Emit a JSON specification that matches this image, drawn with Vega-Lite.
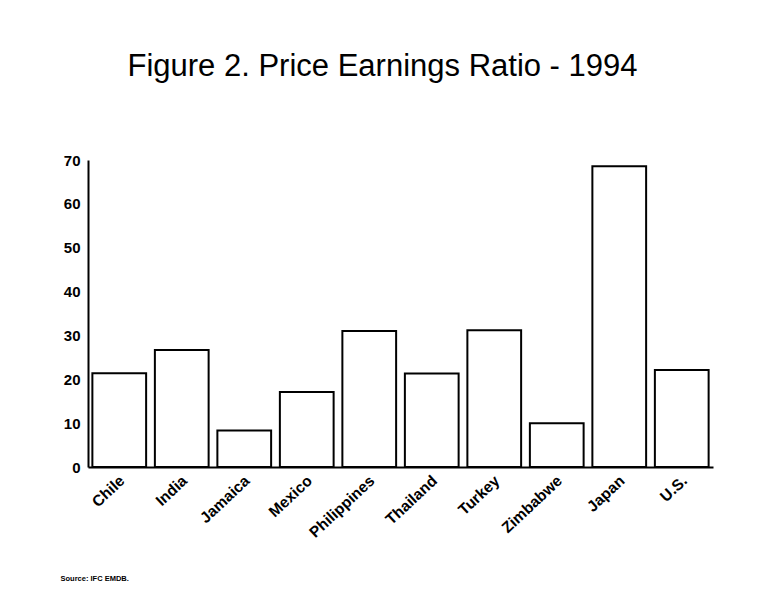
{
  "$schema": "https://vega.github.io/schema/vega-lite/v6.json",
  "autosize": "none",
  "width": 625,
  "height": 307,
  "padding": {"left": 88, "top": 160, "right": 46, "bottom": 137},
  "background": "white",
  "title": {
    "text": "Figure 2. Price Earnings Ratio - 1994",
    "font": "Liberation Sans",
    "fontSize": 31,
    "fontWeight": "normal",
    "color": "black",
    "anchor": "middle",
    "dx": -18,
    "offset": 70
  },
  "data": {
    "values": [
      {"country": "Chile", "pe": 21.4},
      {"country": "India", "pe": 26.7},
      {"country": "Jamaica", "pe": 8.3},
      {"country": "Mexico", "pe": 17.1},
      {"country": "Philippines", "pe": 31.0},
      {"country": "Thailand", "pe": 21.3},
      {"country": "Turkey", "pe": 31.2},
      {"country": "Zimbabwe", "pe": 10.0},
      {"country": "Japan", "pe": 68.6},
      {"country": "U.S.", "pe": 22.1}
    ]
  },
  "mark": {"type": "bar", "fill": "white", "stroke": "black", "strokeWidth": 2},
  "encoding": {
    "x": {
      "field": "country",
      "type": "nominal",
      "sort": null,
      "scale": {"paddingInner": 0.14, "paddingOuter": 0.07},
      "axis": {
        "title": "Source: IFC EMDB.",
        "titleFont": "Liberation Sans",
        "titleFontSize": 7.5,
        "titleFontWeight": "bold",
        "titleAnchor": "start",
        "titleAlign": "left",
        "titleX": -28,
        "titleY": 107,
        "titleColor": "black",
        "labelAngle": -43,
        "labelAlign": "right",
        "labelBaseline": "middle",
        "labelFont": "Liberation Sans",
        "labelFontSize": 15.5,
        "labelFontWeight": "bold",
        "labelColor": "black",
        "labelPadding": 11,
        "labelOffset": 3,
        "ticks": false,
        "domainColor": "black",
        "domainWidth": 2
      }
    },
    "y": {
      "field": "pe",
      "type": "quantitative",
      "scale": {"domain": [0, 70]},
      "axis": {
        "title": null,
        "values": [0, 10, 20, 30, 40, 50, 60, 70],
        "grid": false,
        "ticks": false,
        "labelFont": "Liberation Sans",
        "labelFontSize": 15,
        "labelFontWeight": "bold",
        "labelColor": "black",
        "labelPadding": 8,
        "domainColor": "black",
        "domainWidth": 2
      }
    }
  },
  "config": {"view": {"stroke": null}}
}
